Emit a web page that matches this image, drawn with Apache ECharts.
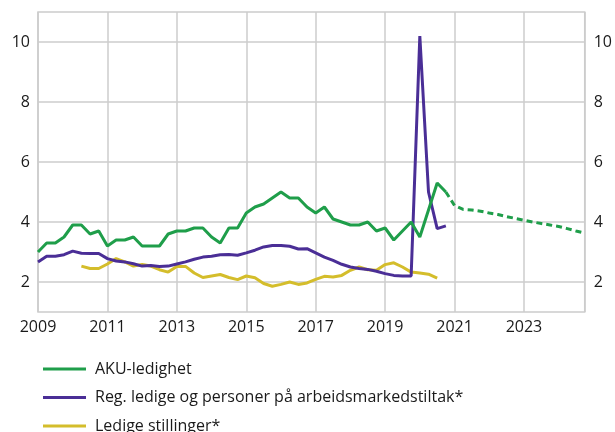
<!DOCTYPE html>
<html>
<head>
<meta charset="utf-8">
<script src="https://cdn.jsdelivr.net/npm/echarts@6/dist/echarts.min.js"></script>
<style>
  html, body { margin: 0; padding: 0; background: #fff; }
  #chart { width: 615px; height: 432px; }
</style>
</head>
<body>
<div id="chart"></div>
<script>
// ---- Data (quarterly) ----
const baseYear = 2009;
const xTickYears = [2009, 2011, 2013, 2015, 2017, 2019, 2021, 2023];
const yTickLabels = [2, 4, 6, 8, 10];

const seriesNames = ['AKU-ledighet', 'Reg. ledige og personer på arbeidsmarkedstiltak*', 'Ledige stillinger*'];

const akuStart = 2009.0;
const akuValues = [
  3.0, 3.3, 3.3, 3.5,
  3.9, 3.9, 3.6, 3.7,
  3.2, 3.4, 3.4, 3.5,
  3.2, 3.2, 3.2, 3.6,
  3.7, 3.7, 3.8, 3.8,
  3.5, 3.3, 3.8, 3.8,
  4.3, 4.5, 4.6, 4.8,
  5.0, 4.8, 4.8, 4.5,
  4.3, 4.5, 4.1, 4.0,
  3.9, 3.9, 4.0, 3.7,
  3.8, 3.4, 3.7, 4.0,
  3.5, 4.4, 5.3, 5.0
];

const akuForecastStart = 2020.75;
const akuForecastValues = [
  5.0,
  4.55, 4.42, 4.4, 4.36,
  4.3, 4.25, 4.18, 4.12,
  4.06, 4.0, 3.95, 3.9,
  3.85, 3.78, 3.7, 3.63
];

const regStart = 2009.0;
const regValues = [
  2.67, 2.86, 2.86, 2.91,
  3.03, 2.96, 2.95, 2.95,
  2.78, 2.70, 2.67, 2.61,
  2.53, 2.55, 2.52, 2.53,
  2.60, 2.67, 2.76, 2.83,
  2.86, 2.91, 2.92, 2.89,
  2.97, 3.06, 3.17, 3.22,
  3.22, 3.19, 3.10, 3.11,
  2.97, 2.83, 2.72, 2.59,
  2.50, 2.45, 2.42, 2.36,
  2.28, 2.22, 2.20, 2.20,
  10.2, 5.0, 3.78, 3.87
];

const stillStart = 2010.25;
const stillValues = [
  2.53, 2.45, 2.45,
  2.60, 2.78, 2.67, 2.53,
  2.58, 2.53, 2.41, 2.33,
  2.52, 2.52, 2.30, 2.15,
  2.20, 2.25, 2.15, 2.08,
  2.20, 2.14, 1.95, 1.86,
  1.92, 2.00, 1.92, 1.97,
  2.09, 2.19, 2.17, 2.22,
  2.39, 2.50, 2.41, 2.39,
  2.58, 2.64, 2.50, 2.33,
  2.30, 2.26, 2.13
];

// ---- Build [x, y] pairs (x = years since baseYear) ----
function toPairs(start, values) {
  return values.map((v, i) => [start - baseYear + i * 0.25, v]);
}

const colors = { green: '#1f9e4a', purple: '#4a2e96', yellow: '#d4bd2b' };
const gridColor = '#cccccc';
const fontFamily = '"Open Sans", "Noto Sans", sans-serif';

const chart = echarts.init(document.getElementById('chart'), null, { renderer: 'canvas' });

const yLabelFmt = v => (yTickLabels.indexOf(Math.round(v)) >= 0 && Math.abs(v - Math.round(v)) < 1e-9) ? String(Math.round(v)) : '';

chart.setOption({
  animation: false,
  backgroundColor: '#ffffff',
  grid: {
    left: 38, right: 28, top: 12, bottom: 120,
    show: true, borderColor: gridColor, borderWidth: 1.5,
    containLabel: false
  },
  legend: {
    data: seriesNames,
    orient: 'vertical',
    left: 43,
    top: 359,
    height: 120,
    padding: 0,
    icon: 'rect',
    itemWidth: 43,
    itemHeight: 3,
    itemGap: 8.5,
    textStyle: {
      fontFamily: fontFamily,
      fontSize: 16,
      color: '#1a1a1a',
      lineHeight: 20,
      padding: [0, 0, 0, 4]
    }
  },
  xAxis: {
    type: 'value',
    min: 0,
    max: 15.75,
    interval: 2,
    axisLine: { show: false },
    axisTick: { show: false },
    splitLine: { show: true, lineStyle: { color: gridColor, width: 1.5 } },
    axisLabel: {
      margin: 7,
      fontFamily: fontFamily,
      fontSize: 16,
      color: '#1a1a1a',
      formatter: v => {
        const y = Math.round(v + baseYear);
        return (Math.abs(v + baseYear - y) < 1e-9 && xTickYears.indexOf(y) >= 0) ? String(y) : '';
      }
    }
  },
  yAxis: [
    {
      type: 'value',
      min: 1, max: 11, interval: 1,
      position: 'left',
      axisLine: { show: false },
      axisTick: { show: false },
      splitLine: { show: true, lineStyle: { color: ['rgba(0,0,0,0)', gridColor], width: 1.5 } },
      axisLabel: { margin: 8, fontFamily: fontFamily, fontSize: 16, color: '#1a1a1a', formatter: yLabelFmt }
    },
    {
      type: 'value',
      min: 1, max: 11, interval: 1,
      position: 'right',
      axisLine: { show: false },
      axisTick: { show: false },
      splitLine: { show: false },
      axisLabel: { margin: 9, fontFamily: fontFamily, fontSize: 16, color: '#1a1a1a', formatter: yLabelFmt }
    }
  ],
  series: [
    {
      name: seriesNames[2], type: 'line', symbol: 'none',
      data: toPairs(stillStart, stillValues),
      itemStyle: { color: colors.yellow },
      lineStyle: { color: colors.yellow, width: 3 },
      z: 2
    },
    {
      name: seriesNames[1], type: 'line', symbol: 'none',
      data: toPairs(regStart, regValues),
      itemStyle: { color: colors.purple },
      lineStyle: { color: colors.purple, width: 3 },
      z: 3
    },
    {
      name: seriesNames[0], type: 'line', symbol: 'none',
      data: toPairs(akuStart, akuValues),
      itemStyle: { color: colors.green },
      lineStyle: { color: colors.green, width: 3 },
      z: 4
    },
    {
      name: 'AKU-ledighet (anslag)', type: 'line', symbol: 'none',
      data: toPairs(akuForecastStart, akuForecastValues),
      itemStyle: { color: colors.green },
      lineStyle: { color: colors.green, width: 3, type: [6, 4] },
      z: 4
    }
  ]
});
</script>
</body>
</html>
